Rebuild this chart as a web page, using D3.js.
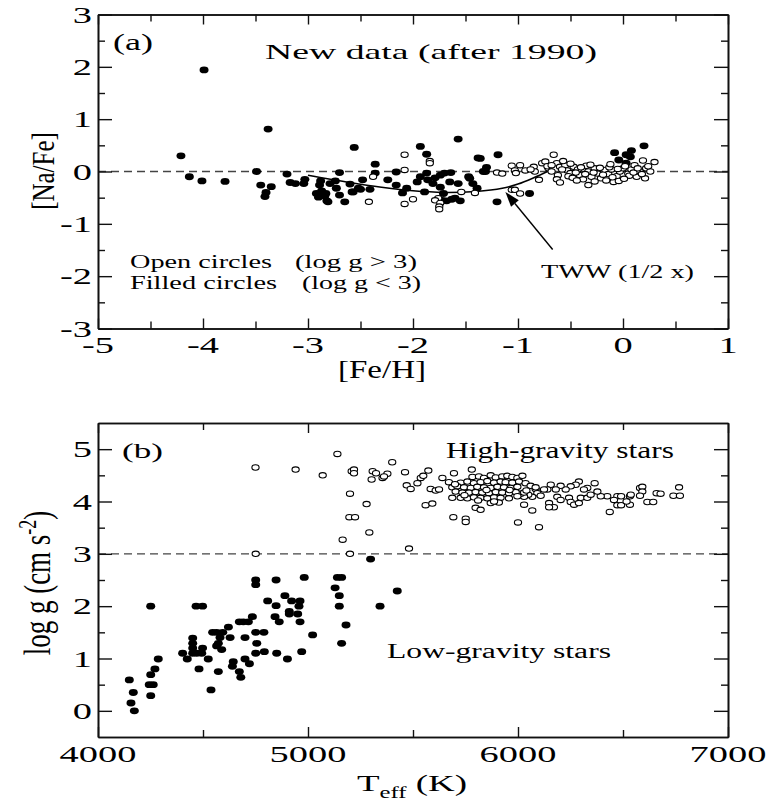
<!DOCTYPE html>
<html>
<head>
<meta charset="utf-8">
<script src="https://cdn.jsdelivr.net/npm/d3@7"></script>
<style>
body { margin: 0; background: #fff; }
svg { display: block; }
text { font-family: "Liberation Serif", "Times New Roman", serif; fill: #000; }
</style>
</head>
<body>
<div id="chart"></div>
<script>
// ---- panel (a): [Fe/H] vs [Na/Fe] ----
const feH_ticks = [-5, -4, -3, -2, -1, 0, 1];
const naFe_ticks = [-3, -2, -1, 0, 1, 2, 3];

// filled circles (log g < 3)
const naFe_filled = [
  [-4.21,0.30],[-3.99,1.94],[-3.38,0.81],[-2.56,0.46],[-2.36,0.14],
  [-4.13,-0.10],[-4.01,-0.18],[-3.79,-0.19],[-3.49,0.00],[-3.45,-0.26],[-3.35,-0.29],[-3.40,-0.40],[-3.41,-0.48],
  [-3.20,-0.05],[-3.17,-0.21],[-3.12,-0.23],[-3.04,-0.23],[-3.03,-0.15],[-2.92,-0.42],[-2.90,-0.49],[-2.87,-0.37],
  [-2.84,-0.47],[-2.81,-0.58],[-2.88,-0.18],[-2.89,-0.26],[-2.74,-0.18],[-2.73,-0.32],[-2.70,-0.02],[-2.70,-0.45],
  [-2.65,-0.58],[-2.60,-0.24],[-2.58,-0.39],[-2.50,-0.34],[-2.48,-0.16],[-2.41,-0.34],[-2.36,-0.03],
  [-1.57,0.62],[-1.93,0.48],[-1.87,0.33],[-1.38,0.26],[-1.19,0.32],[-1.30,0.08],[-1.31,0.00],
  [-2.16,-0.01],[-2.24,-0.16],[-2.16,-0.26],[-2.06,-0.32],[-2.10,-0.41],[-1.93,-0.10],[-1.87,-0.03],[-1.86,-0.16],
  [-1.81,-0.23],[-1.74,-0.07],[-1.70,-0.03],[-1.64,-0.02],[-1.65,-0.20],[-1.57,-0.23],[-1.74,-0.30],[-1.71,-0.42],
  [-1.68,-0.56],[-1.60,-0.51],[-1.55,-0.56],[-1.46,-0.13],[-1.43,-0.23],[-1.39,-0.32],[-1.20,-0.58],[-1.89,-0.39],
  [-2.82,-0.56],[-2.57,-0.39],[-2.52,-0.32],[-2.79,-0.23],[-2.83,-0.42],[-1.72,-0.55],[-1.63,-0.53],[-0.89,-0.42],
  [-1.36,0.25],[-1.33,0.00],[-1.47,-0.10],[-1.96,-0.20],[-1.79,-0.12],
  [-0.08,0.36],[0.03,0.32],[0.08,0.40],[0.07,0.28],[0.20,0.49],[-0.04,0.22],[0.03,0.16]
];

// open circles (log g > 3)
const naFe_open = [
  [-2.42,-0.58],[-2.38,-0.10],[-2.08,0.32],[-1.84,0.20],[-1.84,0.16],[-2.08,0.03],[-1.76,-0.51],[-1.79,-0.55],
  [-1.74,-0.60],[-1.75,-0.67],[-1.75,-0.72],[-1.54,-0.39],[-1.41,-0.41],[-2.00,-0.53],[-2.08,-0.62],[-1.20,-0.02],
  [-1.06,-0.35],[-1.03,-0.35],[-0.98,-0.42],
  [-1.06,0.11],[-1.03,0.02],[-1.02,-0.03],[-0.93,0.02],[-0.85,0.09],[-0.84,0.00],[-0.80,-0.16],[-0.77,0.16],
  [-0.74,0.19],[-0.66,0.32],[-0.71,0.06],[-0.68,0.00],[-0.63,0.16],[-0.60,0.09],[-0.62,-0.07],[-0.63,-0.15],
  [-0.60,-0.21],[-0.55,0.12],[-0.53,0.02],[-0.50,-0.03],[-0.47,0.09],[-0.43,0.04],[-0.41,-0.07],[-0.38,-0.15],
  [-0.35,0.11],[-0.33,0.00],[-0.33,-0.26],[-0.30,-0.10],[-0.27,0.06],[-0.24,-0.04],[-0.21,-0.13],[-0.17,0.03],
  [-0.14,-0.05],[-0.11,0.04],[-0.08,-0.16],[-0.06,-0.09],[-0.03,0.00],[0.00,0.06],[0.05,-0.04],[0.08,0.04],
  [0.11,0.12],[0.13,-0.10],[0.16,0.00],[0.19,0.21],[0.21,-0.13],[0.22,0.06],[0.26,0.00],[0.30,0.18],[-0.09,-0.20],
  [-0.98,0.12],[-0.72,0.10],[-0.58,0.04],[-0.52,-0.09],[-0.45,-0.02],[-0.40,0.08],[-0.36,-0.05],[-0.28,-0.02],
  [-0.22,0.07],[-0.19,-0.06],[-0.13,0.08],[-0.10,-0.11],[-0.05,0.05],[0.02,0.10],[0.06,-0.08],[0.10,-0.02],
  [0.14,0.06],[0.18,-0.05],[0.24,0.10],[-0.04,-0.18],[-0.16,-0.17],[-0.27,-0.19],[-0.48,-0.12],[-0.57,0.20],
  [-0.68,0.12],[-0.88,0.04],[-1.15,-0.04],[0.01,-0.14],[-0.12,0.14],[-0.31,0.13],[-0.50,0.15],[-0.44,-0.17]
];

// TWW (1/2 x) curve
const tww_curve = [
  [-3.0,-0.07],[-2.6,-0.21],[-2.3,-0.30],[-2.0,-0.37],[-1.7,-0.40],[-1.4,-0.38],
  [-1.15,-0.32],[-1.0,-0.24],[-0.85,-0.12],[-0.72,0.0]
];
const tww_arrow = [[-0.67,-1.49],[-1.12,-0.39]]; // tail, tip

// ---- panel (b): Teff vs log g ----
const teff_ticks = [4000, 5000, 6000, 7000];
const logg_ticks = [0, 1, 2, 3, 4, 5];

const logg_filled = [
  [4751,2.50],[4751,2.41],[4848,2.50],[4982,2.55],[5129,2.35],[5140,2.55],[5160,2.55],[4890,2.20],[4808,2.10],
  [4922,2.10],[4962,2.10],[4848,2.01],[4957,2.00],[5149,2.20],[5149,2.00],[4251,2.00],[4467,2.00],[4498,2.00],
  [5343,2.00],[5298,2.90],[5425,2.29],
  [4911,1.90],[4911,1.85],[4951,1.85],[4962,1.70],[4843,1.80],[4863,1.70],[5181,1.64],[5160,1.29],[5022,1.45],
  [4970,1.13],[4902,0.99],[4851,1.10],[4792,1.13],[4790,1.50],[4751,1.50],[4756,1.29],[4751,1.10],[4735,1.80],
  [4716,1.70],[4692,1.70],[4673,1.70],[4700,1.40],[4700,0.99],[4721,0.90],[4644,0.94],[4640,0.85],[4673,0.75],
  [4680,0.64],[4621,1.60],[4629,1.40],[4594,1.50],[4565,1.50],[4546,1.50],[4581,1.40],[4573,1.29],[4565,1.24],
  [4589,1.17],[4573,0.75],[4538,0.40],[4525,0.99],[4498,1.20],[4494,1.10],[4451,1.39],[4451,1.29],[4451,1.20],
  [4451,1.10],[4470,1.10],[4481,0.80],[4425,0.99],[4403,1.10],[4287,0.99],[4271,0.80],[4251,0.69],[4263,0.50],
  [4244,0.50],[4251,0.29],[4149,0.59],[4168,0.35],[4157,0.15],[4173,0.00]
];

const logg_open = [
  [4750,4.65],[4941,4.61],[5070,4.50],[5140,4.91],[5208,4.58],[5219,4.61],[5219,4.54],[5308,4.58],[5324,4.54],
  [5303,4.42],[5355,4.45],[5200,4.15],[5279,3.95],[5197,3.70],[5224,3.70],[5292,3.41],[5165,3.27],[4751,3.00],
  [5200,3.00],[5481,3.10],
  [5401,4.75],[5378,4.53],[5362,4.48],[5462,4.56],[5470,4.31],[5489,4.24],[5521,4.35],[5537,4.45],[5549,4.49],
  [5573,4.59],[5560,3.93],[5592,3.96],[5584,4.24],[5608,4.21],[5624,4.23],[5640,4.45],[5695,4.54],[5780,4.61],
  [5692,3.70],[5751,3.67],[5751,3.61],[5798,3.88],[5822,3.84],[6000,3.60],[6100,3.51],[6068,3.83],[6029,3.94],
  [6437,3.80],[6473,3.93],[6491,3.93],[6533,3.94],[6517,4.00],[6533,4.10],[6581,4.26],[6592,4.28],[6592,4.19],
  [6581,4.11],[6616,3.99],[6644,3.99],[6660,4.16],[6679,4.15],[6740,4.11],[6771,4.11],[6767,4.27],[6537,4.13],
  [6473,4.10],[6491,4.10],[6457,4.03],[6425,4.10],[6394,4.10],[6365,4.35],[6330,4.26],[6314,4.23],[6290,4.38],
  [6275,4.32],[6251,4.29],[6227,4.23],[6203,4.30],[6180,4.23],[6156,4.32],[6140,4.23],[6124,4.23],[6148,3.97],
  [6171,3.89],[6148,3.89],[6243,4.07],[6251,3.99],[6267,3.94],[6290,3.97],[6299,4.07],[6330,4.07],[6346,4.13],
  [6378,4.19],[6187,4.09],[6203,4.03],[6084,4.24],[6092,4.16],[6108,4.11],[6068,4.09],[6049,4.13],[6029,4.09],
  [6013,4.15],
  [5783,4.47],[5814,4.48],[5838,4.45],[5870,4.50],[5894,4.46],[5925,4.48],[5949,4.49],[5973,4.47],[5997,4.45],[6021,4.49],
  [5671,4.37],[5727,4.36],[5759,4.38],[5790,4.35],[5822,4.37],[5854,4.39],[5886,4.36],[5917,4.38],[5941,4.37],
  [5973,4.36],[6005,4.38],[6036,4.35],[6060,4.30],
  [5687,4.27],[5711,4.29],[5743,4.27],[5775,4.26],[5806,4.28],[5838,4.27],[5870,4.26],[5902,4.28],[5933,4.27],
  [5965,4.26],[5997,4.28],[6084,4.27],
  [5687,4.07],[5703,4.19],[5735,4.17],[5767,4.17],[5798,4.18],[5830,4.17],[5862,4.16],[5894,4.18],[5925,4.17],
  [5957,4.16],[5989,4.18],[6029,4.17],
  [5727,4.07],[5759,4.06],[5790,4.08],[5822,4.07],[5854,4.06],[5886,4.08],[5917,4.07],[5957,4.06],[5997,4.10],
  [5870,3.97],[5909,3.98],[5886,4.00],[5810,4.02],[5745,4.12],[5960,4.22],[6040,4.21],[5850,4.22],[5700,4.33]
];

// ---- layout ----
const W = 768, H = 807;
const SX = 1.6; // horizontal stretch of the lettering in the original figure

const svg = d3.select('#chart').append('svg')
  .attr('width', W)
  .attr('height', H);

const xA = d3.scaleLinear().domain([-5, 1]).range([98, 728]);
const yA = d3.scaleLinear().domain([-3, 3]).range([328.5, 14.5]);
const xB = d3.scaleLinear().domain([4000, 7000]).range([98, 728]);
const yB = d3.scaleLinear().domain([-0.5, 5.5]).range([737, 423]);

function drawFrame(x, y, xMajor, xMinor, yMajor, yMinor, labX, labY) {
  const g = svg.append('g');
  const [x0, x1] = x.range();
  const [y0, y1] = y.range(); // y0 bottom, y1 top

  const sides = [
    { gen: d3.axisBottom, sc: x, at: `translate(0,${y0})`, maj: 10, min: 7, mv: xMajor, nv: xMinor },
    { gen: d3.axisTop, sc: x, at: `translate(0,${y1})`, maj: 10, min: 7, mv: xMajor, nv: xMinor },
    { gen: d3.axisLeft, sc: y, at: `translate(${x0},0)`, maj: 14, min: 7, mv: yMajor, nv: yMinor },
    { gen: d3.axisRight, sc: y, at: `translate(${x1},0)`, maj: 14, min: 7, mv: yMajor, nv: yMinor }
  ];
  sides.forEach(s => {
    g.append('g').attr('transform', s.at)
      .call(s.gen(s.sc).tickValues(s.mv).tickSizeInner(-s.maj).tickSizeOuter(0).tickFormat(''));
    g.append('g').attr('transform', s.at)
      .call(s.gen(s.sc).tickValues(s.nv).tickSizeInner(-s.min).tickSizeOuter(0).tickFormat(''));
  });
  g.selectAll('path.domain').attr('stroke', '#111').attr('stroke-width', 1.6);
  g.selectAll('.tick line').attr('stroke', '#111').attr('stroke-width', 1.4);

  // tick labels
  labX.forEach(v => {
    svg.append('text')
      .attr('transform', `translate(${x(v)},${y0 + 24.5}) scale(${SX},1)`)
      .attr('text-anchor', 'middle')
      .style('font-size', '24px')
      .text(String(v));
  });
  labY.forEach(v => {
    svg.append('text')
      .attr('transform', `translate(${x0 - 6},${y(v) + 8}) scale(${SX},1)`)
      .attr('text-anchor', 'end')
      .style('font-size', '24px')
      .text(String(v));
  });
}

function inner(a, b) {
  return d3.range(a, b + 1e-9, 0.5).filter(v => Math.abs(v - Math.round(v)) > 0.1);
}

function dashed(x, y, v) {
  svg.append('line')
    .attr('x1', x.range()[0]).attr('x2', x.range()[1])
    .attr('y1', y(v)).attr('y2', y(v))
    .attr('stroke', '#444').attr('stroke-width', 1.3)
    .attr('stroke-dasharray', '8,5');
}

function dots(data, x, y, filled) {
  svg.append('g').selectAll('ellipse')
    .data(data).enter().append('ellipse')
    .attr('cx', d => x(d[0]))
    .attr('cy', d => y(d[1]))
    .attr('rx', filled ? 4.5 : 3.6)
    .attr('ry', filled ? 3.4 : 2.7)
    .attr('fill', filled ? '#000' : '#fff')
    .attr('stroke', '#000')
    .attr('stroke-width', filled ? 0 : 1.1);
}

function label(str, x, y, size, len) {
  return svg.append('text')
    .attr('x', x).attr('y', y)
    .attr('textLength', len)
    .attr('lengthAdjust', 'spacingAndGlyphs')
    .style('font-size', size + 'px')
    .text(str);
}

// ---- panel (a) ----
dashed(xA, yA, 0);

svg.append('path')
  .datum(tww_curve)
  .attr('d', d3.line().x(d => xA(d[0])).y(d => yA(d[1])).curve(d3.curveCatmullRom))
  .attr('fill', 'none').attr('stroke', '#000').attr('stroke-width', 1.5);

dots(naFe_filled, xA, yA, true);
dots(naFe_open, xA, yA, false);

// arrow to the curve
{
  const tx = xA(tww_arrow[0][0]), ty = yA(tww_arrow[0][1]);
  const hx = xA(tww_arrow[1][0]), hy = yA(tww_arrow[1][1]);
  const ang = Math.atan2(hy - ty, hx - tx);
  const L = 15, Wd = 5;
  const bx = hx - L * Math.cos(ang), by = hy - L * Math.sin(ang);
  svg.append('line')
    .attr('x1', tx).attr('y1', ty).attr('x2', bx).attr('y2', by)
    .attr('stroke', '#000').attr('stroke-width', 1.4);
  svg.append('path')
    .attr('d', `M${hx},${hy}L${bx + Wd * Math.sin(ang)},${by - Wd * Math.cos(ang)}L${bx - Wd * Math.sin(ang)},${by + Wd * Math.cos(ang)}Z`)
    .attr('fill', '#000');
}

drawFrame(xA, yA, feH_ticks, inner(-5, 1), naFe_ticks, inner(-3, 3),
  feH_ticks.slice(), naFe_ticks.slice());

label('(a)', 113, 50, 23, 40);
label('New data (after 1990)', 265, 59, 22, 332);
label('Open circles', 130, 268, 18.5, 142);
label('(log g > 3)', 295, 268, 18.5, 122);
label('Filled circles', 130, 289, 18.5, 147);
label('(log g < 3)', 302, 289, 18.5, 119);
label('TWW (1/2 x)', 541, 278, 18.5, 153);
label('[Fe/H]', 338, 378, 25, 88);

svg.append('text')
  .attr('transform', 'translate(54,171) scale(1.3,1) rotate(-90)')
  .attr('text-anchor', 'middle')
  .style('font-size', '25px')
  .text('[Na/Fe]');

// ---- panel (b) ----
dashed(xB, yB, 3);
dots(logg_filled, xB, yB, true);
dots(logg_open, xB, yB, false);

drawFrame(xB, yB, teff_ticks, d3.range(4500, 7000, 500).filter(v => v % 1000), logg_ticks,
  d3.range(-0.5, 5.6, 0.5).filter(v => Math.abs(v - Math.round(v)) > 0.1 && v > -0.4 && v < 5.4),
  teff_ticks, logg_ticks);

label('(b)', 122, 458, 22, 41);
label('High-gravity stars', 446, 458.3, 22.5, 228);
label('Low-gravity stars', 387, 658.3, 20, 224);

// x title with subscript
{
  const t = svg.append('text')
    .attr('transform', `translate(357,791) scale(1.54,1)`)
    .style('font-size', '24px');
  t.append('tspan').text('T');
  t.append('tspan').attr('dy', 7).style('font-size', '16px').text('eff');
  t.append('tspan').attr('dy', -7).text(' (K)');
}

// y title with superscript
{
  const t = svg.append('text')
    .attr('transform', 'translate(50,583) scale(1.4,1) rotate(-90)')
    .attr('text-anchor', 'middle')
    .style('font-size', '27px');
  t.append('tspan').text('log g (cm s');
  t.append('tspan').attr('dy', -10).style('font-size', '18px').text('-2');
  t.append('tspan').attr('dy', 10).text(')');
}
</script>
</body>
</html>
